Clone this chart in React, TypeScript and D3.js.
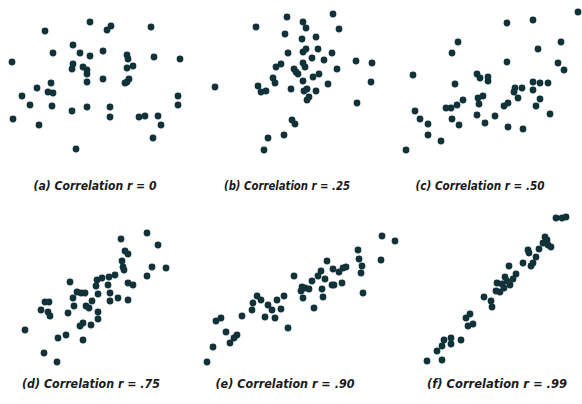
import React from "react";
import * as d3 from "d3";

type P = [number, number];

const panelA: P[] = [[90,133],[45,124],[107,125],[111,129],[151,128],[73,110],[53,102],[80,102],[90,99],[103,104],[127,100],[128,96],[154,98],[180,96],[12,93],[73,91],[72,86],[83,88],[87,85],[87,81],[87,73],[103,76],[127,87],[133,89],[129,76],[127,73],[125,72],[51,72],[37,67],[48,63],[53,62],[22,59],[30,50],[52,49],[72,44],[87,48],[110,48],[110,38],[139,38],[145,39],[158,39],[161,30],[178,59],[178,50],[13,36],[39,30],[153,17],[76,6]];
const panelB: P[] = [[92,138],[138,141],[61,128],[108,133],[111,127],[144,126],[90,121],[107,116],[121,118],[93,102],[108,103],[111,106],[123,106],[117,97],[129,95],[137,102],[161,94],[177,92],[81,88],[86,91],[99,86],[101,83],[103,81],[108,92],[110,88],[108,74],[118,78],[124,81],[142,86],[78,77],[80,72],[63,69],[66,63],[71,64],[96,66],[109,64],[112,66],[121,64],[133,71],[176,73],[20,68],[114,58],[112,55],[162,52],[97,35],[100,31],[89,20],[73,17],[69,5]];
const panelC: P[] = [[188,143],[117,132],[143,135],[68,113],[171,113],[62,102],[148,106],[117,93],[168,92],[174,85],[23,80],[65,71],[87,81],[90,77],[98,78],[98,74],[143,73],[150,72],[158,72],[125,67],[132,67],[124,63],[143,65],[88,57],[93,59],[89,51],[73,55],[67,50],[61,47],[56,47],[128,57],[150,56],[118,52],[114,49],[146,49],[25,44],[30,36],[38,31],[62,36],[69,30],[87,40],[95,32],[105,39],[118,28],[133,26],[160,41],[38,20],[51,14],[16,5]];
const panelD: P[] = [[121,131],[147,137],[158,125],[125,119],[128,116],[122,109],[123,103],[124,100],[152,103],[166,102],[147,94],[115,95],[109,93],[102,92],[97,90],[96,84],[108,85],[128,87],[133,85],[70,88],[77,78],[81,77],[85,77],[73,72],[98,76],[110,77],[110,69],[118,72],[128,70],[45,68],[49,68],[48,58],[41,60],[50,54],[74,64],[86,64],[89,62],[92,69],[68,57],[98,58],[98,51],[83,47],[80,44],[91,45],[25,40],[58,32],[66,35],[83,30],[44,17],[57,8]];
const panelE: P[] = [[187,134],[163,120],[186,110],[164,111],[167,104],[166,97],[132,109],[151,103],[148,102],[144,98],[138,101],[126,99],[123,94],[117,89],[130,91],[99,94],[107,83],[106,79],[110,82],[114,81],[108,72],[127,81],[128,73],[137,85],[139,85],[147,87],[168,77],[119,62],[89,74],[82,70],[86,61],[80,52],[70,53],[77,60],[73,65],[62,74],[66,70],[58,67],[57,60],[47,54],[26,52],[21,49],[31,38],[42,35],[39,32],[35,27],[93,42],[18,23],[12,8],[200,129]];
const panelF: P[] = [[166,152],[172,152],[176,153],[155,133],[157,130],[153,127],[158,125],[161,123],[149,121],[138,120],[139,117],[146,113],[143,107],[141,104],[133,107],[119,104],[126,96],[115,93],[123,91],[117,89],[112,86],[107,87],[106,79],[110,78],[114,82],[120,85],[94,73],[101,69],[102,63],[80,56],[76,52],[83,46],[78,44],[61,32],[54,30],[52,24],[61,26],[71,30],[47,19],[37,9],[52,10]];

const captions = [
  "(a) Correlation r = 0",
  "(b) Correlation r = .25",
  "(c) Correlation r = .50",
  "(d) Correlation r = .75",
  "(e) Correlation r = .90",
  "(f) Correlation r = .99",
];

const datasets = [panelA, panelB, panelC, panelD, panelE, panelF];

const W = 582, H = 404;
const lefts = [0, 195, 390];
const bottoms = [155, 370];
const captionY = [190, 388];
const captionCx = [[95, 287, 480], [91, 285, 497]];
const captionW = [[123, 126, 129], [138, 139, 140]];
const DOT = "#12323a";

export default function App() {
  return (
    <svg width={W} height={H} style={{ position: "absolute", left: 0, top: 0, background: "#fff" }}>
      {datasets.map((data, i) => {
        const row = Math.floor(i / 3);
        const col = i % 3;
        const x = d3.scaleLinear().domain([0, 200]).range([lefts[col], lefts[col] + 200]);
        const y = d3.scaleLinear().domain([0, 160]).range([bottoms[row], bottoms[row] - 160]);
        return (
          <g key={i}>
            {data.map((p, j) => (
              <circle key={j} cx={x(p[0])} cy={y(p[1])} r={3.4} fill={DOT} />
            ))}
            <text
              x={captionCx[row][col]}
              y={captionY[row]}
              textAnchor="middle"
              fontFamily="'DejaVu Sans', sans-serif"
              fontWeight="bold"
              fontStyle="italic"
              fontSize={row === 0 ? 11.5 : 12.5}
              fill="#1a1a1a"
              textLength={captionW[row][col]}
              lengthAdjust="spacingAndGlyphs"
            >
              {captions[i]}
            </text>
          </g>
        );
      })}
    </svg>
  );
}
